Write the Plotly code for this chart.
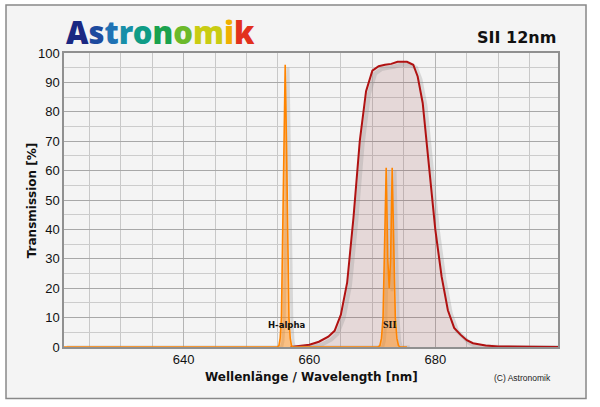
import plotly.graph_objects as go

# ---------------- data ----------------
# Filter transmission curve (nm, %)
filter_wl = [657, 658, 660, 661.5, 663, 664, 665, 666, 667, 668, 669, 670, 671, 672, 673,
             674, 675.5, 676.5, 677.2, 678, 679, 680, 681, 682, 683, 684, 685, 686, 688,
             690, 695, 699.5]
filter_t = [0, 0.3, 0.8, 1.8, 3.5, 5.5, 11, 22, 44, 70, 87, 94, 95.5, 96, 96.3,
            97, 97, 96, 92, 83, 62, 40, 24, 12.5, 6.5, 4.2, 2.3, 1.3, 0.5,
            0.2, 0.05, 0]

# Emission lines (H-alpha and SII) (nm, relative %)
lines_wl = [621, 654.9, 655.15, 655.35, 655.55, 655.75, 655.95, 656.15, 656.35, 656.55,
            656.75, 656.95, 657.15, 657.4, 670.9, 671.2, 671.45, 671.7, 671.95, 672.2,
            672.45, 672.68, 672.9, 673.15, 673.4, 673.65, 673.9, 674.15, 674.4, 675.5]
lines_t = [0, 0, 0.5, 3, 10, 35, 70, 96, 70, 35,
           10, 3, 0.5, 0, 0, 0.5, 3, 10, 35, 61,
           30, 20, 30, 61, 35, 10, 3, 0.5, 0, 0]

line_labels = ["H-alpha", "SII"]
line_label_wl = [656.3, 672.7]
line_label_t = [7.5, 7.5]

x_ticks = [640, 660, 680]
y_ticks = [0, 10, 20, 30, 40, 50, 60, 70, 80, 90, 100]

x_title = "Wellenlänge / Wavelength [nm]"
y_title = "Transmission [%]"
chart_title = "SII 12nm"
credit = "(C) Astronomik"

logo_letters = list("Astronomik")
logo_colors = ["#1a2882", "#1d4a9e", "#1f72b4", "#178fa8", "#0f9c86",
               "#1aa24e", "#6cb92a", "#c9cc12", "#f0b000", "#e2311d"]

# shadow offset (nm, %)
SH_DX, SH_DY = 0.45, -1.0

fig = go.Figure()

# filter fill
fig.add_trace(go.Scatter(x=filter_wl, y=filter_t, mode="lines", line=dict(width=0),
                         fill="tozeroy", fillcolor="rgba(150,60,60,0.15)",
                         hoverinfo="skip", showlegend=False))
# filter shadow
fig.add_trace(go.Scatter(x=[w + SH_DX for w in filter_wl], y=[max(t + SH_DY, 0) for t in filter_t],
                         mode="lines", line=dict(color="rgba(150,150,150,0.3)", width=4),
                         hoverinfo="skip", showlegend=False))
# filter line
fig.add_trace(go.Scatter(x=filter_wl, y=filter_t, mode="lines",
                         line=dict(color="#b01212", width=2),
                         hoverinfo="skip", showlegend=False))
# emission line shadow
fig.add_trace(go.Scatter(x=[w + SH_DX for w in lines_wl], y=[max(t + SH_DY, 0) for t in lines_t],
                         mode="lines", line=dict(color="rgba(150,150,150,0.3)", width=3),
                         hoverinfo="skip", showlegend=False))
# emission lines
fig.add_trace(go.Scatter(x=lines_wl, y=lines_t, mode="lines",
                         line=dict(color="#ff8400", width=1.6),
                         fill="tozeroy", fillcolor="rgba(255,140,20,0.5)",
                         hoverinfo="skip", showlegend=False))

annotations = []
for lab, wl, t in zip(line_labels, line_label_wl, line_label_t):
    annotations.append(dict(x=wl, y=t, xref="x", yref="y", text="<b>%s</b>" % lab, showarrow=False,
                            font=dict(family="Liberation Serif" if lab == "SII" else "DejaVu Sans",
                                      size=10 if lab == "SII" else 8.5, color="#111111")))

logo = "".join('<span style="color:%s">%s</span>' % (c, l) for l, c in zip(logo_letters, logo_colors))
annotations.append(dict(x=0.0, y=1.07, xref="paper", yref="paper", xanchor="left", yanchor="middle",
                        text=logo, showarrow=False,
                        font=dict(family="Noto Sans", size=31, weight=900)))
annotations.append(dict(x=1.0, y=1.053, xref="paper", yref="paper", xanchor="right", yanchor="middle",
                        text="<b>%s</b>" % chart_title, showarrow=False,
                        font=dict(family="DejaVu Sans", size=16, color="#111111")))
annotations.append(dict(x=0.929, y=-0.104, xref="paper", yref="paper", xanchor="center", yanchor="middle",
                        text=credit, showarrow=False,
                        font=dict(family="Liberation Sans", size=8.5, color="#222222")))
annotations.append(dict(x=0.5, y=-0.1005, xref="paper", yref="paper", xanchor="center", yanchor="middle",
                        text="<b>%s</b>" % x_title, showarrow=False,
                        font=dict(family="DejaVu Sans", size=12, color="#111111")))
annotations.append(dict(x=-0.0648, y=0.499, xref="paper", yref="paper", xanchor="center", yanchor="middle",
                        text="<b>%s</b>" % y_title, showarrow=False, textangle=-90,
                        font=dict(family="DejaVu Sans", size=12, color="#111111")))

fig.update_layout(
    width=600, height=407,
    margin=dict(l=64, r=42, t=53, b=60, pad=0),
    paper_bgcolor="white",
    plot_bgcolor="#f4f4f4",
    annotations=annotations,
    shapes=[dict(type="rect", xref="paper", yref="paper", x0=-0.1174, x1=1.0567, y0=-0.1755, y1=1.1635,
                 line=dict(color="#888888", width=1.5), fillcolor="#f4f4f4", layer="below")],
    xaxis=dict(range=[621, 699.5], tickvals=x_ticks, showgrid=True, gridcolor="#b4b4b4", gridwidth=1,
               minor=dict(dtick=5, tick0=620, showgrid=True, gridcolor="#c8c8c8", gridwidth=1),
               showline=True, linecolor="#909090", linewidth=1.5, mirror=True, zeroline=False,
               ticks="", automargin=False,
               tickfont=dict(family="Liberation Sans", size=13, color="#111111")),
    yaxis=dict(range=[0, 100], tickvals=y_ticks, showgrid=True, gridcolor="#a8a8a8", gridwidth=1,
               minor=dict(dtick=5, showgrid=True, gridcolor="#cccccc", gridwidth=1),
               showline=True, linecolor="#909090", linewidth=1.5, mirror=True, zeroline=False,
               ticks="", automargin=False,
               tickfont=dict(family="Liberation Sans", size=13, color="#111111")),
)

fig.write_html("out.html", config={"displayModeBar": False},
               post_script="document.body.style.margin='0px';")
